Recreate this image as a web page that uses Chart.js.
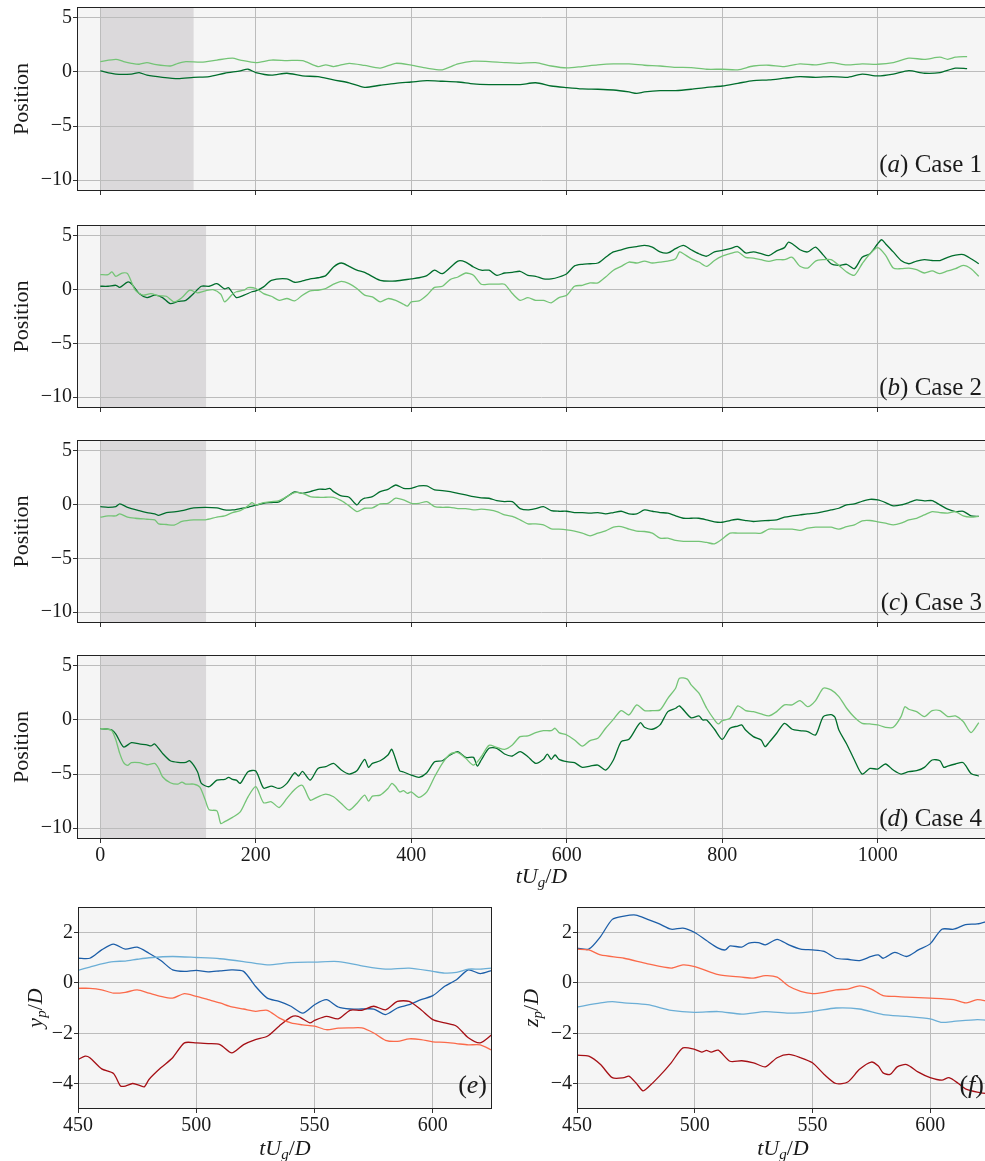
<!DOCTYPE html>
<html>
<head>
<meta charset="utf-8">
<script src="https://cdn.jsdelivr.net/npm/chart.js@4.4.0/dist/chart.umd.min.js"></script>
<style>
html, body { margin: 0; padding: 0; background: #fff; overflow: hidden; }
#fig { position: relative; width: 985px; height: 1161px; overflow: hidden; background: #fff; }
.panel { position: absolute; }
</style>
</head>
<body>
<div id="fig">
  <div class="panel" style="left:0;top:0;width:1015px;height:200px"><canvas id="chartA"></canvas></div>
  <div class="panel" style="left:0;top:215px;width:1015px;height:202px"><canvas id="chartB"></canvas></div>
  <div class="panel" style="left:0;top:430px;width:1015px;height:202px"><canvas id="chartC"></canvas></div>
  <div class="panel" style="left:0;top:645px;width:1015px;height:255px"><canvas id="chartD"></canvas></div>
  <div class="panel" style="left:0;top:897px;width:500px;height:264px"><canvas id="chartE"></canvas></div>
  <div class="panel" style="left:499px;top:897px;width:500px;height:264px"><canvas id="chartF"></canvas></div>
</div>
<script>
// ---- position traces, cases 1-4 (two particles each) ----
var caseA_darkT = [0,20,40,50,60,80,100,120,140,160,
  180,190,200,220,240,260,280,300,320,340,
  360,380,400,420,440,460,480,500,520,540,
  560,580,600,620,640,660,680,690,700,720,
  740,760,780,800,820,840,860,880,900,920,
  940,960,980,1000,1020,1040,1060,1080,1100,1115];
var caseA_dark = [0.1,-0.2,-0.2,-0.06,-0.3,-0.5,-0.62,-0.5,-0.43,-0.12,
  0.1,0.25,-0.06,-0.3,-0.12,-0.37,-0.43,-0.74,-1.0,-1.42,
  -1.23,-1.05,-0.93,-0.8,-0.86,-0.93,-1.11,-1.17,-1.17,-1.17,
  -1.0,-1.3,-1.45,-1.57,-1.6,-1.67,-1.85,-1.98,-1.85,-1.73,
  -1.73,-1.6,-1.42,-1.3,-1.05,-0.8,-0.74,-0.58,-0.43,-0.5,
  -0.43,-0.5,-0.2,-0.37,-0.2,0.12,-0.12,-0.06,0.35,0.3];
var caseA_lightT = [0,20,30,40,50,60,70,90,100,110,
  130,150,170,180,200,220,240,260,280,290,
  300,320,340,360,380,400,420,440,460,480,
  500,520,540,560,580,600,620,640,660,680,
  700,720,740,760,780,800,820,840,860,880,
  900,920,940,960,980,1000,1020,1040,1060,1080,
  1090,1100,1115];
var caseA_light = [0.96,1.17,0.96,0.8,0.71,0.86,0.7,0.55,0.8,0.96,
  0.9,1.1,1.27,1.1,0.86,1.1,1.05,1.05,0.5,0.65,
  0.5,0.8,0.6,0.35,0.8,0.62,0.35,0.2,0.74,1.0,
  0.95,0.86,0.8,0.86,0.55,0.37,0.5,0.65,0.74,0.74,
  0.62,0.55,0.43,0.4,0.25,0.25,0.2,0.55,0.62,0.5,
  0.74,0.65,0.86,0.65,0.74,0.71,0.86,1.27,1.17,1.36,
  1.17,1.36,1.42];

var caseB_darkT = [0,10,20,25,35,40,50,60,70,80,
  90,100,110,120,130,140,150,160,165,175,
  185,195,200,210,220,240,250,260,270,280,
  290,300,310,320,330,340,360,380,400,410,
  420,430,440,460,470,480,490,500,510,520,
  530,540,550,560,570,580,590,600,610,620,
  630,640,650,660,670,680,690,700,710,720,
  730,740,750,760,770,780,790,800,810,820,
  830,840,850,860,870,880,885,890,900,910,
  920,930,940,950,960,970,980,990,1000,1005,
  1010,1020,1030,1040,1050,1060,1070,1080,1090,1100,
  1110,1120,1130];
var caseB_dark = [0.31,0.31,0.4,0.2,0.7,0.55,-0.37,-0.74,-0.52,-0.74,
  -1.3,-1.1,-1.0,-0.37,0.31,0.31,0.55,0.06,0.18,-0.74,
  -0.52,-0.2,-0.12,0.25,0.86,1.0,0.68,0.8,1.0,1.1,
  1.3,2.1,2.47,2.16,1.8,1.6,0.86,0.8,1.0,1.1,
  1.3,1.8,1.48,2.65,2.56,2.1,1.8,1.8,1.33,1.54,
  1.6,1.7,1.33,1.23,1.0,1.0,1.17,1.48,2.2,2.35,
  2.4,2.47,3.0,3.5,3.7,3.9,4.0,4.1,3.95,3.5,
  3.4,3.8,4.1,3.7,3.33,3.1,3.5,3.64,3.8,4.0,
  3.4,3.5,3.33,3.15,3.6,3.9,4.4,4.26,3.7,3.5,
  3.95,3.2,2.4,2.25,2.35,1.94,3.0,3.33,4.26,4.63,
  4.26,3.5,2.7,2.4,2.65,2.78,2.7,2.7,3.0,3.2,
  3.25,2.87,2.4];
var caseB_lightT = [0,10,15,20,28,35,45,55,65,75,
  85,95,105,115,125,135,145,155,160,170,
  175,185,190,200,210,220,230,240,250,260,
  270,280,290,300,310,320,330,340,350,360,
  370,380,390,395,400,410,420,430,440,450,
  460,470,480,490,500,510,520,530,540,550,
  560,570,580,590,600,610,620,630,640,650,
  660,670,680,690,700,710,720,730,740,745,
  750,760,770,780,790,800,810,820,830,840,
  850,860,870,880,890,900,910,920,930,940,
  950,960,970,980,990,1000,1010,1020,1030,1040,
  1050,1060,1070,1080,1090,1100,1110,1120,1130];
var caseB_light = [1.39,1.39,1.64,1.23,1.54,1.48,-0.06,-0.52,-0.37,-0.58,
  -0.62,-1.14,-0.74,-0.06,-0.3,-0.12,0,-0.43,-1.14,-0.43,
  -0.2,-0.06,0.18,0.1,-0.37,-0.62,-1.0,-0.83,-1.05,-0.52,
  -0.12,-0.06,0.1,0.5,0.77,0.55,0.1,-0.52,-0.68,-1.14,
  -0.83,-1.0,-1.36,-1.54,-1.14,-1.05,-0.52,0.2,0.31,0.93,
  1.17,1.54,1.33,0.5,0.5,0.5,0.5,-0.37,-1.0,-0.74,
  -1.0,-1.0,-1.23,-0.74,-0.52,0.31,0.4,0.62,0.62,1.17,
  1.8,2.16,2.56,2.47,2.65,2.47,2.56,2.65,2.87,3.5,
  3.33,2.87,2.56,2.16,2.7,3.1,3.33,3.5,3.0,2.93,
  2.78,2.62,2.78,2.78,3.0,2.16,2.0,2.65,2.78,2.78,
  2.25,1.64,1.33,2.4,3.33,3.9,3.2,2.0,1.94,2.0,
  1.85,1.54,1.73,1.48,1.73,1.94,2.25,1.94,1.23];

var caseC_darkT = [0,10,20,25,35,50,60,70,75,85,
  95,105,120,135,150,160,170,180,190,200,
  210,220,230,240,250,260,270,280,290,295,
  300,310,320,330,335,340,350,360,370,380,
  390,400,410,420,430,440,450,460,470,480,
  490,500,510,520,530,540,550,560,570,580,
  590,600,610,620,630,640,650,660,670,680,
  690,700,710,720,730,740,750,760,770,780,
  790,800,810,820,830,840,850,860,870,880,
  890,900,910,920,930,940,950,960,970,980,
  990,1000,1010,1020,1030,1040,1050,1060,1070,1080,
  1090,1100,1110,1120,1130];
var caseC_dark = [-0.19,-0.25,-0.19,0.06,-0.25,-0.56,-0.74,-0.86,-1.0,-0.74,
  -0.68,-0.56,-0.31,-0.25,-0.31,-0.5,-0.5,-0.37,-0.25,-0.06,
  0.12,0.19,0.25,0.74,1.17,1.05,1.2,1.42,1.42,1.5,
  1.2,0.8,0.68,-0.03,0.37,0.59,0.74,1.2,1.42,1.82,
  1.51,1.51,1.73,1.73,1.36,1.3,1.2,1.05,0.9,0.74,
  0.62,0.59,0.37,0.28,0.28,-0.37,-0.5,-0.37,-0.19,-0.56,
  -0.62,-0.62,-0.74,-0.74,-0.8,-0.74,-0.86,-0.74,-0.62,-0.86,
  -0.86,-0.5,-0.62,-0.74,-0.8,-1.05,-1.27,-1.27,-1.27,-1.42,
  -1.6,-1.64,-1.48,-1.36,-1.48,-1.57,-1.51,-1.48,-1.42,-1.17,
  -1.05,-0.96,-0.86,-0.8,-0.65,-0.5,-0.34,-0.03,0.06,0.31,
  0.49,0.43,0.19,-0.12,-0.03,0.19,0.43,0.34,0.37,-0.03,
  -0.43,-0.65,-0.62,-1.05,-1.1];
var caseC_lightT = [0,10,20,25,35,45,60,70,75,85,
  95,105,120,135,150,160,170,180,190,195,
  200,210,220,230,240,250,260,270,280,290,
  300,310,320,330,340,350,360,370,380,390,
  400,410,420,430,440,450,460,470,480,490,
  500,510,520,530,540,550,560,570,580,590,
  600,610,620,630,640,650,660,670,680,690,
  700,710,720,730,740,750,760,770,780,790,
  800,810,820,830,840,850,860,870,880,890,
  900,910,920,930,940,950,960,970,980,990,
  1000,1010,1020,1030,1040,1050,1060,1070,1080,1090,
  1100,1110,1120,1130];
var caseC_light = [-1.17,-1.05,-1.05,-0.86,-1.17,-1.27,-1.36,-1.42,-1.79,-1.85,
  -1.91,-1.57,-1.42,-1.42,-1.17,-1.05,-0.74,-0.56,-0.12,0.19,
  -0.03,0.19,0.28,0.37,0.74,1.11,1.05,0.74,0.68,0.68,
  0.68,0.37,-0.12,-0.65,-0.34,-0.31,0.06,0.12,0.59,0.43,
  0.12,0.12,0.28,-0.19,-0.25,-0.25,-0.37,-0.37,-0.5,-0.43,
  -0.5,-0.65,-0.96,-1.1,-1.42,-1.79,-1.79,-1.88,-2.25,-2.28,
  -2.35,-2.47,-2.65,-2.9,-2.65,-2.44,-2.1,-2.04,-2.28,-2.47,
  -2.5,-2.65,-3.12,-3.12,-3.33,-3.42,-3.42,-3.42,-3.52,-3.64,
  -3.2,-2.65,-2.65,-2.65,-2.65,-2.65,-2.28,-2.28,-2.28,-2.28,
  -2.4,-2.19,-2.1,-2.1,-2.1,-2.28,-2.04,-1.88,-1.51,-1.48,
  -1.6,-1.73,-1.88,-1.73,-1.42,-1.27,-0.96,-0.65,-0.74,-0.8,
  -0.65,-1.05,-1.17,-1.1];

var caseD_darkT = [0,10,15,20,30,40,50,60,65,70,
  80,90,100,110,115,125,130,140,150,160,
  165,170,175,180,190,200,210,220,230,240,
  250,255,260,270,280,290,300,310,320,330,
  340,345,350,360,370,375,385,390,400,410,
  420,430,440,450,460,470,480,485,490,500,
  510,520,530,540,550,560,570,575,580,585,
  590,600,610,620,630,640,650,660,670,680,
  690,695,700,710,720,730,740,745,760,770,
  775,780,790,800,810,820,825,830,840,850,
  855,860,870,880,890,900,910,920,930,940,
  945,950,960,970,980,990,1000,1010,1020,1030,
  1040,1050,1060,1070,1080,1085,1090,1100,1110,1120,
  1130];
var caseD_dark = [-0.8,-0.86,-0.93,-1.3,-2.5,-2.1,-2.22,-2.3,-2.4,-2.22,
  -3.09,-3.77,-3.92,-3.92,-3.77,-4.78,-5.86,-6.17,-5.56,-5.5,
  -5.3,-5.5,-5.56,-5.86,-4.78,-4.72,-6.3,-6.11,-6.33,-5.86,
  -4.88,-5.19,-4.75,-5.56,-4.48,-4.32,-4.01,-4.63,-5.0,-4.69,
  -3.64,-4.38,-4.01,-3.77,-3.24,-2.72,-4.69,-4.81,-5.09,-5.3,
  -4.88,-3.86,-3.77,-3.24,-2.93,-3.46,-3.46,-4.26,-3.7,-2.62,
  -2.62,-3.15,-3.33,-2.93,-3.4,-4.01,-3.64,-3.15,-3.64,-3.24,
  -3.64,-3.86,-3.95,-4.38,-4.26,-4.17,-4.63,-3.7,-2.0,-1.79,
  -0.68,-0.25,-0.68,-0.86,-0.46,0.77,1.08,1.3,0.19,0.37,
  0,0,-0.86,-1.79,-0.77,-0.56,-0.46,-0.93,-1.54,-1.85,
  -2.47,-2.1,-1.23,-0.31,-0.86,-0.99,-1.08,-1.39,0.31,0.49,
  0.25,-0.93,-2.22,-3.7,-5.0,-4.48,-4.54,-4.07,-4.63,-5.0,
  -4.78,-4.69,-4.38,-3.7,-3.77,-4.38,-4.26,-4.07,-3.95,-4.94,
  -5.19];
var caseD_lightT = [0,10,15,20,25,30,35,40,50,60,
  70,75,80,90,100,105,110,120,128,135,
  140,150,155,160,170,180,190,200,210,220,
  230,240,250,260,270,280,290,300,310,320,
  330,340,345,350,360,370,375,380,385,390,
  395,400,410,420,430,440,450,460,470,480,
  490,500,510,520,530,540,550,560,570,580,
  585,590,600,610,620,630,640,650,660,670,
  680,690,700,710,720,730,740,745,755,760,
  770,780,790,795,800,810,820,830,840,850,
  860,870,880,890,900,910,920,930,940,950,
  960,970,980,990,1000,1010,1020,1030,1035,1040,
  1050,1060,1070,1080,1090,1100,1110,1120,1130];
var caseD_light = [-0.8,-0.86,-1.0,-1.85,-3.09,-3.95,-4.2,-3.95,-3.95,-4.14,
  -4.01,-4.48,-5.25,-5.8,-5.93,-5.74,-5.93,-5.93,-6.2,-7.4,
  -8.3,-8.4,-9.57,-9.4,-9.0,-8.5,-7.1,-6.17,-7.65,-7.56,
  -8.09,-7.25,-6.42,-6.05,-7.41,-7.1,-6.85,-7.1,-7.72,-8.33,
  -7.72,-6.94,-7.5,-7.04,-6.94,-6.33,-5.86,-6.17,-6.64,-6.54,
  -6.79,-6.64,-7.16,-6.64,-5.25,-4.01,-3.15,-3.02,-3.55,-4.17,
  -3.4,-2.35,-2.53,-2.72,-2.31,-1.54,-1.48,-1.17,-0.99,-0.99,
  -0.77,-1.17,-1.39,-1.85,-2.41,-1.91,-1.7,-0.77,0.06,0.86,
  0.46,1.39,0.86,0.86,0.93,2.0,2.93,3.86,3.77,3.24,
  2.47,1.08,0,-0.37,-0.06,0.15,1.3,0.86,0.77,0.56,
  0.37,0.77,1.39,1.39,1.79,1.23,1.79,2.93,2.78,2.16,
  1.08,0.25,-0.31,-0.37,-0.46,-0.68,-0.68,0.31,1.23,0.99,
  0.77,0.31,0.86,0.86,0.31,0.37,-0.15,-1.17,-0.25];

// ---- close-up window, y_p/D (e) and z_p/D (f) ----
var yp_darkBlueT = [450,455,460,465,470,475,480,485,490,495,500,505,510,515,520,525,530,535,
  540,545,550,555,560,565,570,575,580,585,590,595,600,605,610,615,620,625];
var yp_darkBlue = [0.97,0.97,1.3,1.53,1.33,1.41,1.17,0.88,0.51,0.45,0.49,0.43,0.47,0.51,0.45,-0.14,-0.61,-0.74,
  -0.93,-1.2,-0.87,-0.67,-0.96,-1.04,-1.04,-1.04,-1.26,-1.0,-0.87,-0.67,-0.51,-0.14,0.12,0.51,0.36,0.49];
var yp_lightBlueT = [450,455,460,465,470,475,480,490,500,510,520,530,540,550,560,570,580,590,600,605,610,615,620,625];
var yp_lightBlue = [0.49,0.62,0.75,0.84,0.86,0.93,0.99,1.04,1.0,0.95,0.84,0.71,0.8,0.82,0.84,0.67,0.54,0.58,0.45,0.38,0.41,0.54,0.54,0.58];
var yp_lightRedT = yp_darkBlueT;
var yp_lightRed = [-0.22,-0.22,-0.28,-0.41,-0.38,-0.28,-0.41,-0.54,-0.61,-0.43,-0.54,-0.67,-0.8,-0.96,-1.04,-1.13,-1.09,-1.39,
  -1.59,-1.67,-1.72,-1.86,-1.8,-1.79,-1.79,-1.99,-2.28,-2.32,-2.22,-2.25,-2.34,-2.36,-2.41,-2.46,-2.46,-2.67];
var yp_darkRedT = [450,453,455,460,465,468,470,473,475,478,480,485,490,495,500,505,510,515,520,525,
  530,535,540,543,548,550,555,560,565,570,575,580,585,590,595,600,605,610,615,620,625];
var yp_darkRed = [-3.04,-2.91,-2.97,-3.41,-3.59,-4.09,-4.09,-3.99,-4.03,-4.12,-3.83,-3.37,-2.97,-2.38,-2.38,-2.41,-2.45,-2.78,-2.45,-2.25,
  -2.12,-1.72,-1.36,-1.33,-1.59,-1.49,-1.33,-1.43,-1.09,-1.09,-0.93,-1.07,-0.74,-0.74,-1.07,-1.46,-1.59,-1.72,-2.18,-2.38,-2.05];

var zp_darkBlueT = [450,455,460,465,470,475,480,485,490,495,500,505,510,513,515,520,523,527,530,535,
  540,545,550,555,560,565,570,575,578,580,585,590,595,600,605,610,615,620,625];
var zp_darkBlue = [1.37,1.33,1.83,2.51,2.64,2.68,2.51,2.33,2.12,2.16,1.99,1.67,1.37,1.3,1.46,1.41,1.57,1.59,1.5,1.72,
  1.5,1.33,1.3,1.24,0.97,0.93,0.88,1.04,1.1,0.97,1.2,1.04,1.3,1.54,2.12,2.12,2.3,2.33,2.45];
var zp_lightBlueT = [450,460,465,470,480,490,500,510,520,530,540,550,560,570,580,590,600,605,610,620,625];
var zp_lightBlue = [-0.96,-0.8,-0.75,-0.8,-0.87,-1.09,-1.17,-1.14,-1.24,-1.14,-1.2,-1.14,-1.0,-1.04,-1.26,-1.33,-1.43,-1.57,-1.53,-1.46,-1.49];
var zp_lightRedT = [450,455,460,470,480,490,495,500,510,520,525,530,535,540,545,550,555,560,565,570,
  575,580,585,590,600,610,615,620,625];
var zp_lightRed = [1.33,1.3,1.1,0.97,0.75,0.58,0.71,0.64,0.32,0.22,0.18,0.28,0.22,-0.14,-0.34,-0.43,-0.38,-0.28,-0.25,-0.12,
  -0.25,-0.51,-0.54,-0.57,-0.61,-0.67,-0.8,-0.67,-0.74];
var zp_darkRedT = [450,455,460,465,470,472,475,478,480,485,490,495,500,503,505,507,510,515,520,525,
  530,535,540,545,550,555,560,565,570,575,578,580,583,586,590,595,600,605,608,612,615,620,625];
var zp_darkRed = [-2.87,-2.91,-3.24,-3.76,-3.76,-3.7,-3.96,-4.28,-4.16,-3.7,-3.17,-2.58,-2.64,-2.75,-2.68,-2.75,-2.67,-3.11,-3.09,-3.17,
  -3.33,-2.97,-2.84,-2.97,-3.17,-3.63,-3.99,-3.93,-3.43,-3.14,-3.3,-3.57,-3.63,-3.33,-3.24,-3.54,-3.76,-3.86,-3.76,-3.99,-4.2,-4.33,-4.4];

// ---- axes ----
var caseTicksX = [0, 200, 400, 600, 800, 1000];
var caseTicksY = [-10, -5, 0, 5];
var caseRangeX = [-30, 1165];
var caseRangeY = [-11, 6];
var zoomTicksX = [450, 500, 550, 600];
var zoomTicksY = [-4, -2, 0, 2];
var zoomRangeX = [450, 625];
var zoomRangeY = [-5, 3];
var shadeA = [0, 120];
var shadeBCD = [0, 136];

var SERIF = '"Liberation Serif", "DejaVu Serif", serif';
var INK = '#1a1a1a';
var GREEN_DARK = '#006d2c';
var GREEN_LIGHT = '#74c476';
var BLUE_DARK = '#1c5ea8';
var BLUE_LIGHT = '#6baed6';
var RED_LIGHT = '#fb6a4a';
var RED_DARK = '#a50f15';

function fmt(v) { return v < 0 ? '\u2212' + Math.abs(v) : String(v); }

function series(ts, vs) {
  if (ts.length !== vs.length) console.error('length mismatch', ts.length, vs.length);
  return ts.map(function (t, i) { return { x: t, y: vs[i] }; });
}

function trace(ts, vs, color) {
  return { data: series(ts, vs), borderColor: color, borderWidth: 1.3, pointRadius: 0, tension: 0.25, fill: false };
}

// text with italic / subscript runs, e.g. [['tU','i'],['g','sub'],['/','r'],['D','i']]
function drawRich(ctx, parts, x, y, size, align) {
  ctx.save();
  ctx.textBaseline = 'alphabetic';
  ctx.textAlign = 'left';
  ctx.fillStyle = INK;
  var fonts = parts.map(function (p) {
    var s = p[1] === 'sub' ? Math.round(size * 0.7) : size;
    return (p[1] === 'r' ? '' : 'italic ') + s + 'px ' + SERIF;
  });
  var widths = parts.map(function (p, i) { ctx.font = fonts[i]; return ctx.measureText(p[0]).width; });
  var total = widths.reduce(function (a, b) { return a + b; }, 0);
  var cx = align === 'right' ? x - total : align === 'center' ? x - total / 2 : x;
  parts.forEach(function (p, i) {
    ctx.font = fonts[i];
    ctx.fillText(p[0], cx, y + (p[1] === 'sub' ? size * 0.2 : 0));
    cx += widths[i];
  });
  ctx.restore();
}

function makePanel(canvasId, o) {
  var decor = {
    id: 'decor',
    beforeDraw: function (chart) {
      var ctx = chart.ctx, a = chart.chartArea;
      ctx.save();
      ctx.fillStyle = '#f5f5f5';
      ctx.fillRect(a.left, a.top, a.right - a.left, a.bottom - a.top);
      if (o.shade) {
        var x0 = chart.scales.x.getPixelForValue(o.shade[0]);
        var x1 = chart.scales.x.getPixelForValue(o.shade[1]);
        ctx.fillStyle = '#dbd9db';
        ctx.fillRect(x0, a.top, x1 - x0, a.bottom - a.top);
      }
      ctx.restore();
    },
    afterDraw: function (chart) {
      var ctx = chart.ctx, a = chart.chartArea;
      ctx.save();
      ctx.strokeStyle = '#222';
      ctx.lineWidth = 1;
      ctx.strokeRect(a.left + 0.5, a.top + 0.5, a.right - a.left - 1, a.bottom - a.top - 1);
      ctx.restore();
      drawRich(ctx, o.label, a.right - o.labelRight, a.bottom - o.labelBottom, o.labelSize, 'right');
      if (o.xTitle) drawRich(ctx, o.xTitle, (a.left + a.right) / 2, a.bottom + o.xTitleGap, 22, 'center');
      ctx.save();
      ctx.translate(a.left - o.yTitleGap, (a.top + a.bottom) / 2);
      ctx.rotate(-Math.PI / 2);
      drawRich(ctx, o.yTitle, 0, 0, 22, 'center');
      ctx.restore();
    }
  };
  var tickFont = { family: SERIF, size: 20 };
  return new Chart(document.getElementById(canvasId), {
    type: 'line',
    data: { datasets: o.sets },
    options: {
      responsive: true,
      maintainAspectRatio: false,
      animation: false,
      events: [],
      layout: { padding: { left: 0, top: o.padTop, right: o.padRight, bottom: o.padBottom || 0 } },
      plugins: { legend: { display: false }, tooltip: { enabled: false } },
      scales: {
        x: {
          type: 'linear', min: o.rangeX[0], max: o.rangeX[1],
          afterBuildTicks: function (s) { s.ticks = o.ticksX.map(function (v) { return { value: v }; }); },
          afterFit: function (s) { s.height = o.xH; s.paddingLeft = 0; s.paddingRight = 0; },
          border: { display: false },
          grid: { color: '#bcbcbc', lineWidth: 1, drawTicks: true, tickLength: 4, tickColor: '#333' },
          ticks: {
            autoSkip: false, maxRotation: 0, padding: 1, color: INK, font: tickFont,
            callback: function (v) { return o.xLabels ? fmt(v) : ''; }
          }
        },
        y: {
          type: 'linear', min: o.rangeY[0], max: o.rangeY[1],
          afterBuildTicks: function (s) { s.ticks = o.ticksY.map(function (v) { return { value: v }; }); },
          afterFit: function (s) { s.width = o.yW; s.paddingTop = 0; s.paddingBottom = 0; },
          border: { display: false },
          grid: { color: '#bcbcbc', lineWidth: 1, drawTicks: true, tickLength: 4, tickColor: '#333' },
          ticks: { autoSkip: false, padding: 1, color: INK, font: tickFont, callback: function (v) { return fmt(v); } }
        }
      }
    },
    plugins: [decor]
  });
}

var posTitle = [['Position', 'r']];
var timeTitle = [['tU', 'i'], ['g', 'sub'], ['/', 'r'], ['D', 'i']];

function casePanel(id, dark, light, shade, tag, caseNo, extra) {
  var o = {
    sets: [trace(light[0], light[1], GREEN_LIGHT), trace(dark[0], dark[1], GREEN_DARK)],
    rangeX: caseRangeX, rangeY: caseRangeY, ticksX: caseTicksX, ticksY: caseTicksY,
    shade: shade, padTop: extra.padTop, padRight: 9, padBottom: extra.padBottom, yW: 77, xH: extra.xH,
    xLabels: !!extra.xTitle, xTitle: extra.xTitle, xTitleGap: 44,
    yTitle: posTitle, yTitleGap: 49,
    label: [['(', 'r'], [tag, 'i'], [') Case ' + caseNo, 'r']],
    labelRight: 24, labelBottom: extra.labelBottom, labelSize: 25
  };
  return makePanel(id, o);
}

casePanel('chartA', [caseA_darkT, caseA_dark], [caseA_lightT, caseA_light], shadeA, 'a', 1, { padTop: 7, xH: 9, labelBottom: 19 });
casePanel('chartB', [caseB_darkT, caseB_dark], [caseB_lightT, caseB_light], shadeBCD, 'b', 2, { padTop: 10, xH: 9, labelBottom: 13 });
casePanel('chartC', [caseC_darkT, caseC_dark], [caseC_lightT, caseC_light], shadeBCD, 'c', 3, { padTop: 10, xH: 9, labelBottom: 13 });
casePanel('chartD', [caseD_darkT, caseD_dark], [caseD_lightT, caseD_light], shadeBCD, 'd', 4, { padTop: 10, xH: 46, padBottom: 15, labelBottom: 13, xTitle: timeTitle });

function zoomPanel(id, sets, axisLetter, tag, yGap) {
  return makePanel(id, {
    sets: sets,
    rangeX: zoomRangeX, rangeY: zoomRangeY, ticksX: zoomTicksX, ticksY: zoomTicksY,
    shade: null, padTop: 10, padRight: id === 'chartE' ? 8 : 10, yW: 78, xH: 52,
    xLabels: true, xTitle: timeTitle, xTitleGap: 46,
    yTitle: [[axisLetter, 'i'], ['p', 'sub'], ['/', 'r'], ['D', 'i']], yTitleGap: yGap,
    label: [['(', 'r'], [tag, 'i'], [')', 'r']],
    labelRight: 5, labelBottom: 16, labelSize: 26
  });
}

zoomPanel('chartE', [
  trace(yp_lightBlueT, yp_lightBlue, BLUE_LIGHT),
  trace(yp_lightRedT, yp_lightRed, RED_LIGHT),
  trace(yp_darkRedT, yp_darkRed, RED_DARK),
  trace(yp_darkBlueT, yp_darkBlue, BLUE_DARK)
], 'y', 'e', 36);

zoomPanel('chartF', [
  trace(zp_lightBlueT, zp_lightBlue, BLUE_LIGHT),
  trace(zp_lightRedT, zp_lightRed, RED_LIGHT),
  trace(zp_darkRedT, zp_darkRed, RED_DARK),
  trace(zp_darkBlueT, zp_darkBlue, BLUE_DARK)
], 'z', 'f', 39);
</script>
</body>
</html>
